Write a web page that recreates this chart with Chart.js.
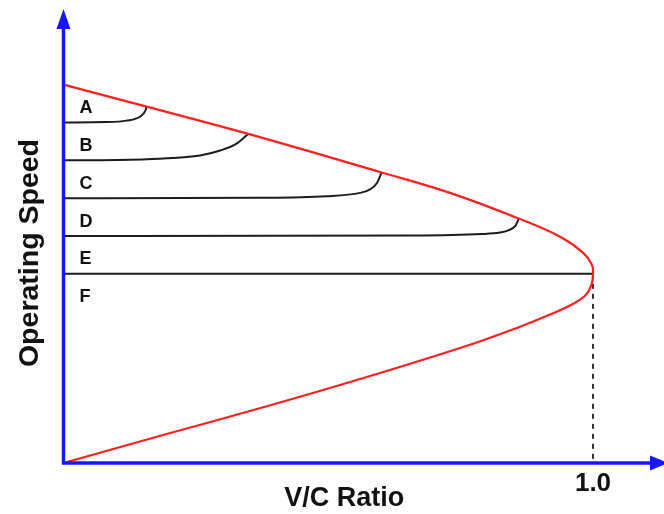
<!DOCTYPE html>
<html>
<head>
<meta charset="utf-8">
<script src="https://cdn.jsdelivr.net/npm/chart.js@4.4.1/dist/chart.umd.min.js"></script>
<style>
  html, body { margin: 0; padding: 0; background: #fff; }
  #wrap { width: 664px; height: 514px; }
</style>
</head>
<body>
<div id="wrap"><canvas id="js-chartjs-los"></canvas></div>
<script>
// Speed / flow envelope (red): upper branch out to capacity, then lower branch back
const envelopeVC    = [0, 0.157, 0.349, 0.601, 0.73, 0.86, 0.938, 0.981, 0.998, 1.0, 0.997, 0.985, 0.96, 0.92, 0.86, 0.775, 0.579, 0.384, 0.188, 0];
const envelopeSpeed = [100, 94.2, 87.0, 76.8, 71.4, 64.6, 59.8, 55.6, 52.4, 50, 47.0, 44.2, 41.9, 39.3, 35.9, 31.6, 23.0, 15.0, 7.4, 0];

// LOS boundary curves (black)
const curveA_VC    = [0, 0.08, 0.119, 0.145, 0.155, 0.157];
const curveA_Speed = [90, 90.1, 90.5, 91.6, 93.2, 94.2];
const curveB_VC    = [0, 0.1, 0.182, 0.258, 0.296, 0.327, 0.349];
const curveB_Speed = [80, 80.1, 80.45, 81.3, 82.6, 84.4, 87.0];
const curveC_VC    = [0, 0.37, 0.497, 0.56, 0.579, 0.592, 0.601];
const curveC_Speed = [70, 70.1, 70.5, 71.4, 72.3, 74.0, 76.8];
const curveD_VC    = [0, 0.66, 0.79, 0.824, 0.84, 0.853, 0.86];
const curveD_Speed = [60, 60.1, 60.5, 60.9, 61.5, 62.6, 64.6];
const curveE_VC    = [0, 1.0];
const curveE_Speed = [50, 50];

// LOS band labels and the speed each band sits on
const losNames = ['A', 'B', 'C', 'D', 'E', 'F'];
const losBase  = [90, 80, 70, 60, 50, 40];

// Axis text
const xTickValues = [1.0];
const xTickLabels = ['1.0'];
const xTitle = 'V/C Ratio';
const yTitle = 'Operating Speed';

const toPoints = (xs, ys) => xs.map((v, i) => ({x: v, y: ys[i]}));

const FONT = '"Liberation Sans", Arial, Helvetica, sans-serif';
const BLUE = '#1717ff';

// Blue arrow axes + texts, drawn from the chart scales
const losAxes = {
  id: 'losAxes',
  afterDatasetsDraw(chart) {
    const {ctx, scales: {x, y}} = chart;
    const x0 = x.getPixelForValue(0);
    const y0 = y.getPixelForValue(0);
    const xEnd = x.getPixelForValue(x.max);
    const yEnd = y.getPixelForValue(y.max);

    ctx.save();
    ctx.strokeStyle = BLUE;
    ctx.fillStyle = BLUE;
    ctx.lineWidth = 3.5;
    ctx.beginPath();
    ctx.moveTo(x0, y0 + 1.5);
    ctx.lineTo(x0, yEnd + 16);
    ctx.moveTo(x0 - 1.5, y0);
    ctx.lineTo(xEnd - 12, y0);
    ctx.stroke();

    ctx.beginPath();
    ctx.moveTo(x0, yEnd);
    ctx.lineTo(x0 - 7, yEnd + 20);
    ctx.lineTo(x0 + 7, yEnd + 20);
    ctx.closePath();
    ctx.fill();

    ctx.beginPath();
    ctx.moveTo(xEnd + 4, y0);
    ctx.lineTo(xEnd - 14, y0 - 7.5);
    ctx.lineTo(xEnd - 14, y0 + 7.5);
    ctx.closePath();
    ctx.fill();

    // tick labels
    ctx.fillStyle = '#111';
    ctx.textAlign = 'center';
    ctx.textBaseline = 'middle';
    ctx.font = 'bold 26px ' + FONT;
    xTickValues.forEach((v, i) => {
      ctx.fillText(xTickLabels[i], x.getPixelForValue(v), y0 + 21);
    });

    // axis titles
    ctx.font = 'bold 27px ' + FONT;
    ctx.fillText(xTitle, x.getPixelForValue(0.53), y0 + 36);
    ctx.font = 'bold 28.5px ' + FONT;
    ctx.save();
    ctx.translate(30, y.getPixelForValue(55.5));
    ctx.rotate(-Math.PI / 2);
    ctx.fillText(yTitle, 0, 0);
    ctx.restore();

    // LOS band letters
    ctx.font = 'bold 18px ' + FONT;
    ctx.textAlign = 'left';
    losNames.forEach((name, i) => {
      ctx.fillText(name, x0 + 16, y.getPixelForValue(losBase[i] + 3.8));
    });
    ctx.restore();
  }
};

const blackCurve = (xs, ys) => ({
  data: toPoints(xs, ys),
  showLine: true,
  borderColor: '#1c1c1c',
  borderWidth: 2,
  pointRadius: 0,
  cubicInterpolationMode: 'monotone'
});

const losData = {
  datasets: [
    {
      data: toPoints(envelopeVC, envelopeSpeed),
      showLine: true,
      borderColor: '#ff1f1f',
      borderWidth: 2.2,
      pointRadius: 0,
      tension: 0.4
    },
    blackCurve(curveA_VC, curveA_Speed),
    blackCurve(curveB_VC, curveB_Speed),
    blackCurve(curveC_VC, curveC_Speed),
    blackCurve(curveD_VC, curveD_Speed),
    blackCurve(curveE_VC, curveE_Speed),
    {
      // capacity marker down to the V/C axis
      data: [{x: xTickValues[0], y: curveE_Speed[1]}, {x: xTickValues[0], y: 0}],
      showLine: true,
      borderColor: '#333',
      borderWidth: 2,
      borderDash: [5, 5],
      pointRadius: 0
    }
  ]
};

const losOptions = {
  responsive: true,
  maintainAspectRatio: false,
  animation: false,
  layout: {padding: {left: 63.5, right: 0, top: 9, bottom: 51}},
  scales: {
    x: {type: 'linear', min: 0, max: 1.1341, display: false},
    y: {type: 'linear', min: 0, max: 120, display: false}
  },
  plugins: {
    legend: {display: false},
    tooltip: {enabled: false}
  }
};

new Chart(document.getElementById('js-chartjs-los'), {
  type: 'scatter',
  data: losData,
  options: losOptions,
  plugins: [losAxes]
});
</script>
</body>
</html>
